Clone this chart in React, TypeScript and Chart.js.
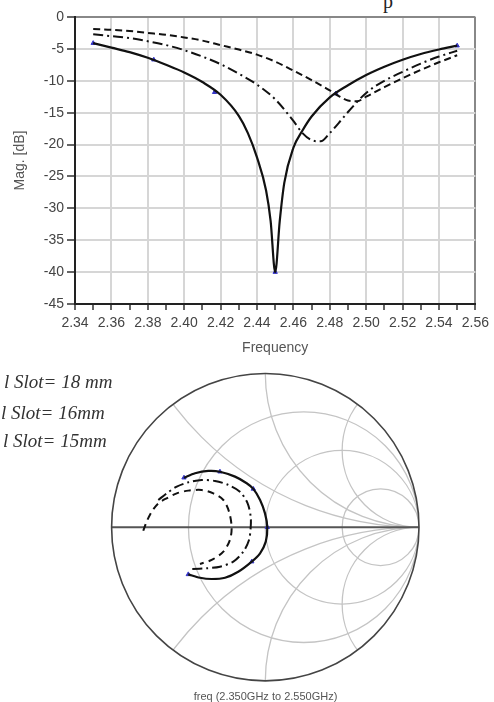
import React, { useEffect, useRef } from 'react';
import { Chart, registerables } from 'chart.js';

Chart.register(...registerables);

// ---------- Top chart data: |S11| (dB) vs frequency (GHz) ----------
const X_TICK_MIN = 2.34;
const X_TICK_MAX = 2.56;
const Y_TICK_MIN = -45;
const Y_TICK_MAX = 0;

const FREQ_SOLID = [2.35, 2.36, 2.37, 2.38, 2.39, 2.40, 2.41, 2.42, 2.43, 2.435, 2.44, 2.445, 2.4475, 2.45, 2.4525, 2.455, 2.46, 2.465, 2.47, 2.48, 2.49, 2.50, 2.51, 2.52, 2.53, 2.54, 2.55];
const MAG_SOLID = [-4.1, -4.8, -5.5, -6.4, -7.5, -8.7, -10.2, -12.2, -15.5, -18.2, -22.0, -27.2, -32.0, -40.0, -32.0, -26.0, -20.5, -17.8, -15.6, -12.6, -10.7, -9.1, -7.8, -6.7, -5.8, -5.1, -4.5];

const FREQ_DASHDOT = [2.35, 2.36, 2.37, 2.38, 2.39, 2.40, 2.41, 2.42, 2.43, 2.44, 2.45, 2.46, 2.465, 2.47, 2.475, 2.48, 2.485, 2.49, 2.50, 2.51, 2.52, 2.53, 2.54, 2.55];
const MAG_DASHDOT = [-2.7, -3.0, -3.3, -3.8, -4.4, -5.2, -6.2, -7.4, -8.9, -10.6, -12.9, -16.3, -18.2, -19.3, -19.5, -18.2, -16.6, -14.9, -11.9, -10.0, -8.6, -7.3, -6.2, -5.3];

const FREQ_DASHED = [2.35, 2.36, 2.37, 2.38, 2.39, 2.40, 2.41, 2.42, 2.43, 2.44, 2.45, 2.46, 2.47, 2.48, 2.485, 2.49, 2.495, 2.50, 2.51, 2.52, 2.53, 2.54, 2.55];
const MAG_DASHED = [-1.9, -2.0, -2.2, -2.5, -2.8, -3.2, -3.7, -4.4, -5.1, -5.9, -7.0, -8.4, -9.9, -11.5, -12.4, -13.1, -13.2, -12.5, -11.0, -9.6, -8.3, -7.1, -6.0];

const MARKER_FREQ = [2.35, 2.3833, 2.4167, 2.45, 2.4833, 2.55];
const MARKER_MAG = [-4.1, -6.7, -11.8, -40.0, -12.0, -4.5];

// ---------- Smith chart data: reflection coefficient (re, im) ----------
const GAMMA_SOLID_RE = [-0.529, -0.457, -0.371, -0.295, -0.197, -0.121, -0.078, -0.034, -0.002, 0.013, 0.003, -0.034, -0.088, -0.176, -0.262, -0.349, -0.425, -0.501];
const GAMMA_SOLID_IM = [0.322, 0.351, 0.366, 0.361, 0.329, 0.286, 0.249, 0.177, 0.090, 0.0, -0.094, -0.170, -0.224, -0.290, -0.329, -0.337, -0.329, -0.307];

const GAMMA_DASHDOT_RE = [-0.696, -0.642, -0.576, -0.501, -0.414, -0.327, -0.241, -0.165, -0.115, -0.095, -0.095, -0.106, -0.143, -0.208, -0.295, -0.381, -0.475];
const GAMMA_DASHDOT_IM = [0.177, 0.220, 0.264, 0.292, 0.307, 0.301, 0.275, 0.231, 0.155, 0.068, 0.0, -0.083, -0.159, -0.224, -0.257, -0.267, -0.272];

const GAMMA_DASHED_RE = [-0.794, -0.772, -0.739, -0.696, -0.642, -0.576, -0.501, -0.414, -0.338, -0.273, -0.236, -0.219, -0.230, -0.273, -0.349, -0.425];
const GAMMA_DASHED_IM = [-0.023, 0.036, 0.101, 0.155, 0.188, 0.220, 0.238, 0.242, 0.220, 0.177, 0.101, 0.0, -0.083, -0.159, -0.213, -0.239];

const SMITH_MARKER_RE = [-0.529, -0.295, -0.078, 0.013, -0.088, -0.501];
const SMITH_MARKER_IM = [0.322, 0.361, 0.249, 0.0, -0.224, -0.307];

const RESISTANCE_CIRCLES = [1 / 3, 1, 3];
const REACTANCE_ARCS = [0.5, 1, 2, -0.5, -1, -2];

const LEGEND_LABELS = ['l Slot= 18 mm', 'l Slot= 16mm', 'l Slot= 15mm'];
const SMITH_CAPTION = 'freq (2.350GHz to 2.550GHz)';
const X_TITLE = 'Frequency';
const Y_TITLE = 'Mag. [dB]';

const toXY = (xs: number[], ys: number[]) => xs.map((x, i) => ({ x, y: ys[i] }));

const SANS = '"Liberation Sans", Arial, sans-serif';
const LINE = '#111';
const MARK = '#3535c8';

const smithGridPlugin = {
  id: 'smithGrid',
  beforeDatasetsDraw(chart: any) {
    const { ctx, scales } = chart;
    const sx = scales.x;
    const sy = scales.y;
    const cx = sx.getPixelForValue(0);
    const cy = sy.getPixelForValue(0);
    const R = sx.getPixelForValue(1) - cx;
    ctx.save();
    ctx.beginPath();
    ctx.arc(cx, cy, R, 0, Math.PI * 2);
    ctx.clip();
    ctx.strokeStyle = '#c4c4c4';
    ctx.lineWidth = 1.3;
    for (const r of RESISTANCE_CIRCLES) {
      const c = r / (1 + r);
      const rad = 1 / (1 + r);
      ctx.beginPath();
      ctx.arc(sx.getPixelForValue(c), cy, rad * R, 0, Math.PI * 2);
      ctx.stroke();
    }
    for (const xv of REACTANCE_ARCS) {
      const rad = Math.abs(1 / xv);
      ctx.beginPath();
      ctx.arc(sx.getPixelForValue(1), sy.getPixelForValue(1 / xv), rad * R, 0, Math.PI * 2);
      ctx.stroke();
    }
    ctx.restore();
    ctx.save();
    ctx.strokeStyle = '#555';
    ctx.lineWidth = 2;
    ctx.beginPath();
    ctx.moveTo(cx - R, cy);
    ctx.lineTo(cx + R, cy);
    ctx.stroke();
    ctx.strokeStyle = '#444';
    ctx.lineWidth = 1.6;
    ctx.beginPath();
    ctx.arc(cx, cy, R, 0, Math.PI * 2);
    ctx.stroke();
    ctx.restore();
  },
};

export default function App() {
  const topRef = useRef<HTMLCanvasElement>(null);
  const smithRef = useRef<HTMLCanvasElement>(null);

  useEffect(() => {
    const isMajor = (v: number) => Math.round(v * 100) % 2 === 0;
    const top = new Chart(topRef.current as HTMLCanvasElement, {
      type: 'line',
      data: {
        datasets: [
          { data: toXY(FREQ_SOLID, MAG_SOLID), borderColor: LINE, borderWidth: 2.2, pointRadius: 0, cubicInterpolationMode: 'monotone' },
          { data: toXY(FREQ_DASHDOT, MAG_DASHDOT), borderColor: LINE, borderWidth: 2, borderDash: [10, 4, 2, 4], pointRadius: 0, cubicInterpolationMode: 'monotone' },
          { data: toXY(FREQ_DASHED, MAG_DASHED), borderColor: LINE, borderWidth: 2, borderDash: [7, 4], pointRadius: 0, cubicInterpolationMode: 'monotone' },
          { data: toXY(MARKER_FREQ, MARKER_MAG), showLine: false, pointRadius: 2.5, pointStyle: 'triangle', backgroundColor: MARK, borderColor: MARK, borderWidth: 1 },
        ] as any,
      },
      options: {
        animation: false,
        responsive: false,
        events: [],
        layout: { padding: { left: 0, right: 16, top: 17, bottom: 0 } },
        plugins: { legend: { display: false }, tooltip: { enabled: false } },
        scales: {
          x: {
            type: 'linear',
            min: X_TICK_MIN,
            max: X_TICK_MAX,
            afterFit: (s: any) => { s.height = 56; },
            border: { display: true, color: '#222', width: 2 },
            grid: {
              color: (c: any) => {
                const v = c.tick ? c.tick.value : 0;
                if (!isMajor(v)) return 'rgba(0,0,0,0)';
                if (Math.abs(v - X_TICK_MAX) < 1e-6) return '#888';
                return '#d6d6d6';
              },
              lineWidth: 2,
              tickColor: '#333',
              tickWidth: 1.5,
              tickLength: 6,
            },
            ticks: {
              stepSize: 0.01,
              autoSkip: false,
              maxRotation: 0,
              padding: 5,
              color: '#444',
              font: { family: SANS, size: 14 },
              callback: (v: any) => (isMajor(Number(v)) ? Number(v).toFixed(2) : ''),
            },
            title: { display: true, text: X_TITLE, color: '#555', font: { family: SANS, size: 14 }, padding: { top: 0, bottom: 3 } },
          },
          y: {
            min: Y_TICK_MIN,
            max: Y_TICK_MAX,
            afterFit: (s: any) => { s.width = 75; },
            border: { display: true, color: '#222', width: 2 },
            grid: {
              color: (c: any) => (c.tick && c.tick.value === Y_TICK_MAX ? '#888' : '#d6d6d6'),
              lineWidth: 2,
              tickColor: '#333',
              tickWidth: 1.5,
              tickLength: 8,
            },
            ticks: {
              stepSize: 5,
              padding: 3,
              color: '#444',
              font: { family: SANS, size: 14 },
              callback: (v: any) => String(v),
            },
            title: { display: true, text: Y_TITLE, color: '#555', font: { family: SANS, size: 14 }, padding: { top: 11.6, bottom: 0 } },
          },
        },
      } as any,
    });

    const smith = new Chart(smithRef.current as HTMLCanvasElement, {
      type: 'scatter',
      data: {
        datasets: [
          { data: toXY(GAMMA_SOLID_RE, GAMMA_SOLID_IM), showLine: true, borderColor: LINE, borderWidth: 2.2, pointRadius: 0, tension: 0.3 },
          { data: toXY(GAMMA_DASHDOT_RE, GAMMA_DASHDOT_IM), showLine: true, borderColor: LINE, borderWidth: 2, borderDash: [10, 4, 2, 4], pointRadius: 0, tension: 0.3 },
          { data: toXY(GAMMA_DASHED_RE, GAMMA_DASHED_IM), showLine: true, borderColor: LINE, borderWidth: 2, borderDash: [7, 5], pointRadius: 0, tension: 0.3 },
          { data: toXY(SMITH_MARKER_RE, SMITH_MARKER_IM), showLine: false, pointRadius: 2.5, pointStyle: 'triangle', backgroundColor: MARK, borderColor: MARK, borderWidth: 1 },
        ] as any,
      },
      options: {
        animation: false,
        responsive: false,
        events: [],
        layout: { padding: { left: 111.6, right: 75, top: 13.5, bottom: 21.1 } },
        plugins: { legend: { display: false }, tooltip: { enabled: false } },
        scales: {
          x: { type: 'linear', min: -1, max: 1, display: false },
          y: { type: 'linear', min: -1, max: 1, display: false },
        },
      } as any,
      plugins: [smithGridPlugin],
    });

    return () => {
      top.destroy();
      smith.destroy();
    };
  }, []);

  const legendTops = [372, 403, 431];
  const legendLefts = [4, 1, 3];

  return (
    <div style={{ position: 'fixed', left: 0, top: 0, width: 494, height: 702, overflow: 'hidden', background: '#fff' }}>
      <div style={{ position: 'absolute', left: 383, top: -9, fontFamily: '"Liberation Serif", "Times New Roman", serif', fontSize: 20, lineHeight: '20px', color: '#222' }}>p</div>
      <canvas ref={topRef} width={494} height={360} style={{ position: 'absolute', left: 0, top: 0 }} />
      <canvas ref={smithRef} width={494} height={342} style={{ position: 'absolute', left: 0, top: 360 }} />
      {LEGEND_LABELS.map((t, i) => (
        <div
          key={t}
          style={{
            position: 'absolute',
            left: legendLefts[i],
            top: legendTops[i],
            fontFamily: '"Liberation Serif", "Times New Roman", serif',
            fontStyle: 'italic',
            fontSize: 19,
            lineHeight: '19px',
            color: '#333',
            whiteSpace: 'nowrap',
          }}
        >
          {t}
        </div>
      ))}
      <div
        style={{
          position: 'absolute',
          left: 265.5,
          top: 690,
          transform: 'translateX(-50%)',
          fontFamily: SANS,
          fontSize: 11,
          lineHeight: '12px',
          color: '#555',
          whiteSpace: 'nowrap',
        }}
      >
        {SMITH_CAPTION}
      </div>
    </div>
  );
}
